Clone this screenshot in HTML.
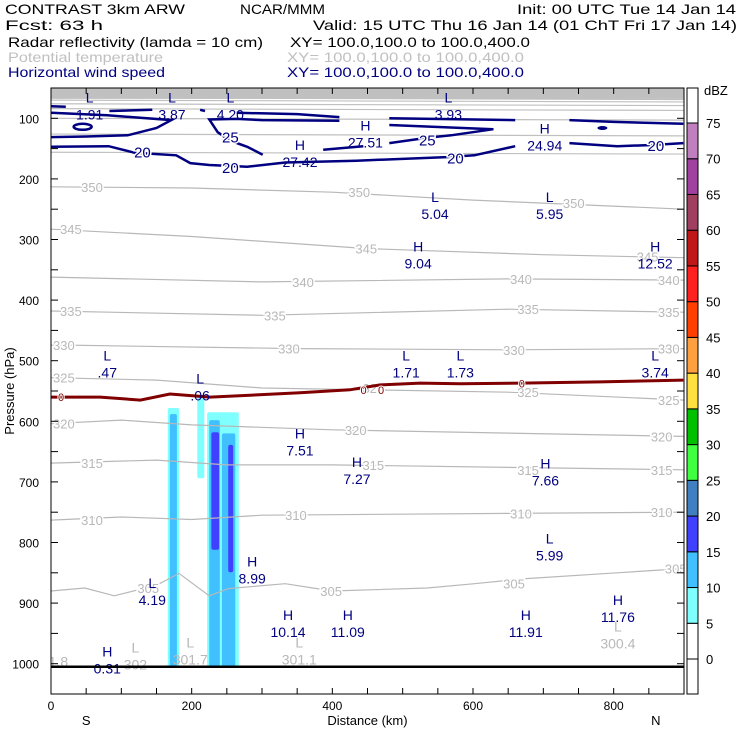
<!DOCTYPE html>
<html><head><meta charset="utf-8"><style>
html,body{margin:0;padding:0;background:#fff;}
svg{display:block;font-family:"Liberation Sans",sans-serif;}
</style></head><body>
<svg id="chart" width="740" height="740" viewBox="0 0 740 740" xmlns="http://www.w3.org/2000/svg">
<g font-size="14">
<text x="5" y="14" textLength="180" lengthAdjust="spacingAndGlyphs">CONTRAST  3km ARW</text>
<text x="240" y="14" textLength="85" lengthAdjust="spacingAndGlyphs">NCAR/MMM</text>
<text x="517" y="14" textLength="219" lengthAdjust="spacingAndGlyphs">Init: 00 UTC Tue 14 Jan 14</text>
<text x="5" y="30" textLength="98" lengthAdjust="spacingAndGlyphs">Fcst:    63 h</text>
<text x="313" y="30" textLength="424" lengthAdjust="spacingAndGlyphs">Valid: 15 UTC Thu 16 Jan 14 (01 ChT Fri 17 Jan 14)</text>
<text x="8" y="47" textLength="255" lengthAdjust="spacingAndGlyphs">Radar reflectivity (lamda = 10 cm)</text>
<text x="290" y="47" textLength="240" lengthAdjust="spacingAndGlyphs">XY= 100.0,100.0 to 100.0,400.0</text>
<text x="8" y="62" textLength="155" lengthAdjust="spacingAndGlyphs" fill="#c0c0c0">Potential temperature</text>
<text x="287" y="62" textLength="237" lengthAdjust="spacingAndGlyphs" fill="#c0c0c0">XY= 100.0,100.0 to 100.0,400.0</text>
<text x="8" y="77" textLength="157" lengthAdjust="spacingAndGlyphs" fill="#000080">Horizontal wind speed</text>
<text x="287" y="77" textLength="237" lengthAdjust="spacingAndGlyphs" fill="#000080">XY= 100.0,100.0 to 100.0,400.0</text>
</g>
<g id="plot"></g>
<g id="cbar"></g>
</svg>
<script>
// ---- data ----
const thetaLevels = [350,345,340,335,330,325,320,315,310,305];
const thetaLines = [
 [[0,213],[200,215],[400,222],[600,235],[900,250]],
 [[0,283],[200,295],[450,315],[700,325],[900,330]],
 [[0,362],[300,370],[650,365],[900,367]],
 [[0,418],[300,425],[650,415],[900,420]],
 [[0,474],[350,480],[650,482],[900,480]],
 [[0,528],[150,532],[300,545],[650,552],[900,565]],
 [[0,604],[100,598],[200,606],[400,614],[900,625]],
 [[0,669],[150,664],[250,672],[400,672],[900,680]],
 [[0,763],[100,758],[200,762],[300,755],[650,752],[900,750]],
 [[0,880],[48,875],[90,888],[151,870],[182,851],[225,888],[252,876],[333,868],[400,880],[535,875],[602,868],[670,860],[805,850],[898,843]]
];
const thetaLabelPos = [[[40,213],[420,222],[725,240]],[[10,283],[430,315],[830,328]],[[340,370],[650,365],[860,367]],[[10,418],[300,425],[660,415],[860,420]],[[0,474],[320,480],[640,482],[860,480]],[[0,528],[440,545],[660,552],[860,565]],[[0,604],[415,614],[850,625]],[[40,669],[440,672],[660,680],[850,680]],[[40,763],[330,755],[650,752],[850,750]],[[120,875],[380,880],[640,868],[870,843]]];
const upperTheta = [[355,156],[360,126],[365,100],[370,84],[375,76],[380,70],[385,66],[390,62]];
const windSegs = [
 [[0,80],[21,81]],[[83,88],[144,86]],[[212,86],[219,88]],[[264,91],[350,93],[410,98]],
 [[0,91],[80,95],[171,103],[150,116],[109,128],[50,130],[0,131]],
 [[410,104],[300,103],[264,101],[225,102],[237,123],[255,137],[279,147],[301,160]],
 [[387,152],[444,146]],
 [[481,100],[660,103]],[[481,111],[629,118],[569,128],[535,132],[481,141]],
 [[0,147],[82,146],[119,157],[178,161],[198,174],[225,177],[279,180],[333,173],[434,170],[562,164],[602,161],[660,146]],
 [[737,103],[800,106],[899,109]],
 [[737,141],[805,146],[855,144],[899,141]]
];
const windLabels = [[130,155,"20"],[255,180,"20"],[575,165,"20"],[860,144,"20"],[255,130,"25"],[535,135,"25"]];
const zeroLine = [[0,560],[70,560],[127,565],[169,555],[226,560],[283,557],[354,553],[425,548],[468,540],[525,537],[582,538],[667,537],[781,535],[899,532]];
const zeroLabelKm = [10,440,465,665];
const hlText = ["L","L","L","L","H","H","H","L","L","H","H","L","L","L","L","L","H","H","H","L","H","L","H","H","H","H","H"];
const hlValues = ["1.91","3.87","4.20","3.93","27.51","27.42","24.94","5.04","5.95","9.04","12.52",".47","1.71","1.73","3.74",".06","7.51","7.27","7.66","5.99","8.99","4.19","10.14","11.09","11.91","11.76","0.31"];
const hlKm = [55,172,255,565,447,354,702,546,709,522,859,80,505,582,859,212,354,435,703,709,286,144,337,422,675,806,80];
const hlP = [74,74,74,74,120,152,125,238,238,320,320,500,500,500,500,538,628,675,678,802,840,875,928,928,928,903,988];
const sfcText = ["301.7","301.1","300.4","302","91.8"];
const sfcKm = [198,353,806,120,5];
const sfcP = [996,996,970,1005,1000];
const dbzLevels = [0,5,10,15,20,25,30,35,40,45,50,55,60,65,70,75];
const dbzColors = ["#ffffff","#80ffff","#40c0ff","#4040ff","#4080c0","#40ff40","#00c000","#ffe040","#ffa040","#ff4000","#ff2020","#c01818","#a04060","#a040a0","#c080c0","#ffffff"];
// reflectivity cells: [kmLeft, kmRight, pTop, pBottom, levelIndex]
const cellKmL = [166,169,208,222,225,243,228,252];
const cellKmR = [182,179,218,267,240,262,239,259];
const cellPTop = [578,588,557,585,598,620,618,639];
const cellPBot = [1005,1005,694,1005,1005,1005,812,849];
const cellLevel = [1,2,1,1,2,2,3,3];
const xTickLabels = [0,200,400,600,800];
const yTickLabels = [100,200,300,400,500,600,700,800,900,1000];

// ---- axes ----
const L=51,R=684,T=88,B=694;
const X = km => L + km*(R-L)/900;
const Y = p => T + (p-50)*(B-T)/1000;
const NS="http://www.w3.org/2000/svg";
const plot=document.getElementById('plot');
function mk(tag,attrs,parent){const e=document.createElementNS(NS,tag);for(const k in attrs)e.setAttribute(k,attrs[k]);(parent||plot).appendChild(e);return e;}
const pts = a => a.map(q=>X(q[0]).toFixed(1)+','+Y(q[1]).toFixed(1)).join(' ');

const defs=mk('defs',{});const cp=mk('clipPath',{id:'clip'},defs);mk('rect',{x:L,y:T,width:R-L,height:B-T},cp);
const g=mk('g',{'clip-path':'url(#clip)'});

let e=mk('rect',{x:L,y:T,width:R-L,height:Y(68)-T,fill:'#c0c0c0'},g);


upperTheta.forEach(u=>{
 const l=mk('line',{x1:L,x2:R,y1:Y(u[1]),y2:Y(u[1]+3),stroke:'#c0c0c0','stroke-width':1.2},g);
 
 
});
cellKmL.forEach((k,i)=>{
 const r=mk('rect',{x:X(k),y:Y(cellPTop[i]),width:X(cellKmR[i])-X(k),height:Y(cellPBot[i])-Y(cellPTop[i]),rx:2,fill:dbzColors[cellLevel[i]]},g);
 
 
});
thetaLines.forEach((ln,i)=>{
 const p=mk('polyline',{points:pts(ln),fill:'none',stroke:'#b8b8b8','stroke-width':1.2},g);
 
 
 thetaLabelPos[i].forEach(q=>{
  const t=mk('text',{x:X(q[0])+2,y:Y(q[1])+5,fill:'#b8b8b8','font-size':13,stroke:'#fff','stroke-width':3,'paint-order':'stroke'},g);
  t.textContent=thetaLevels[i];
  
  
 });
});
e=mk('polyline',{points:pts(zeroLine),fill:'none',stroke:'#800000','stroke-width':3},g);


zeroLabelKm.forEach(k=>{
 let pv=zeroLine[0][1];for(const q of zeroLine){if(q[0]<=k)pv=q[1];}
 const t=mk('text',{x:X(k),y:Y(pv)+4,fill:'#800000','font-size':11,stroke:'#fff','stroke-width':2,'paint-order':'stroke'},g);
 t.textContent='0';
 
 
});
windSegs.forEach(s=>{
 const p=mk('polyline',{points:pts(s),fill:'none',stroke:'#000080','stroke-width':2.5},g);
 
 
});
e=mk('ellipse',{cx:X(45),cy:Y(114),rx:9,ry:3,fill:'none',stroke:'#000080','stroke-width':2.5},g);


e=mk('ellipse',{cx:X(784),cy:Y(116),rx:5,ry:2,fill:'#000080'},g);


windLabels.forEach(w=>{
 const t=mk('text',{x:X(w[0]),y:Y(w[1])+6,fill:'#000080','font-size':15,'text-anchor':'middle',stroke:'#fff','stroke-width':3,'paint-order':'stroke'},g);
 t.textContent=w[2];
 
 
});
hlText.forEach((h,i)=>{
 const t1=mk('text',{x:X(hlKm[i]),y:Y(hlP[i]),fill:'#000080','font-size':14,'text-anchor':'middle'},g);
 t1.textContent=h;
 
 
 const t2=mk('text',{x:X(hlKm[i]),y:Y(hlP[i])+17,fill:'#000080','font-size':14,'text-anchor':'middle'},g);
 t2.textContent=hlValues[i];
 
 
});
sfcText.forEach((s,i)=>{
 const t1=mk('text',{x:X(sfcKm[i]),y:Y(sfcP[i])-14,fill:'#b8b8b8','font-size':14,'text-anchor':'middle'},g);
 t1.textContent=i<4?'L':'';
 
 
 const t2=mk('text',{x:X(sfcKm[i]),y:Y(sfcP[i])+3,fill:'#b8b8b8','font-size':14,'text-anchor':'middle'},g);
 t2.textContent=s;
 
 
});
e=mk('line',{x1:L,x2:R,y1:Y(1005),y2:Y(1005),stroke:'#000','stroke-width':2.5});


e=mk('rect',{x:L,y:T,width:R-L,height:B-T,fill:'none',stroke:'#000','stroke-width':1});


for(let k=0;k<=900;k+=50){
 mk('line',{x1:X(k),x2:X(k),y1:T,y2:T+6,stroke:'#000'});
 mk('line',{x1:X(k),x2:X(k),y1:B,y2:B-6,stroke:'#000'});
}
for(let p=100;p<=1000;p+=50){
 mk('line',{x1:L,x2:L+7,y1:Y(p),y2:Y(p),stroke:'#000'});
 mk('line',{x1:R,x2:R-7,y1:Y(p),y2:Y(p),stroke:'#000'});
}
xTickLabels.forEach(v=>{
 const t=mk('text',{x:X(v),y:B+16,'font-size':12,'text-anchor':'middle'});
 t.textContent=v;
 
 
});
yTickLabels.forEach(v=>{
 const t=mk('text',{x:L-12,y:Y(v)+5,'font-size':12,'text-anchor':'end'});
 t.textContent=v;
 
 
});
e=mk('text',{x:X(450),y:725,'font-size':13,'text-anchor':'middle'});e.textContent='Distance (km)';


e=mk('text',{x:X(50),y:725,'font-size':13,'text-anchor':'middle'});e.textContent='S';


e=mk('text',{x:X(860),y:725,'font-size':13,'text-anchor':'middle'});e.textContent='N';


e=mk('text',{x:14,y:Y(550),'font-size':13,'text-anchor':'middle',transform:'rotate(-90 14 '+Y(550)+')'});e.textContent='Pressure (hPa)';



const cb=document.getElementById('cbar');
const cx=687,cw=11,c0=659,step=(659-123)/15;
e=mk('rect',{x:cx,y:c0,width:cw,height:B-c0,fill:'#fff',stroke:'#000'},cb);


dbzLevels.forEach((lv,i)=>{
 const y1=c0-step*(i+1);
 const h = i===15 ? (c0-step*15)-T : step;
 const yy = i===15 ? T : y1;
 const r=mk('rect',{x:cx,y:yy,width:cw,height:h,fill:dbzColors[i],stroke:'#000'},cb);
 
 
 const t=mk('text',{x:706,y:c0-step*i+5,'font-size':13},cb);
 t.textContent=lv;
 
 
});
e=mk('text',{x:704,y:95,'font-size':13},cb);e.textContent='dBZ';


</script>
</body></html>
